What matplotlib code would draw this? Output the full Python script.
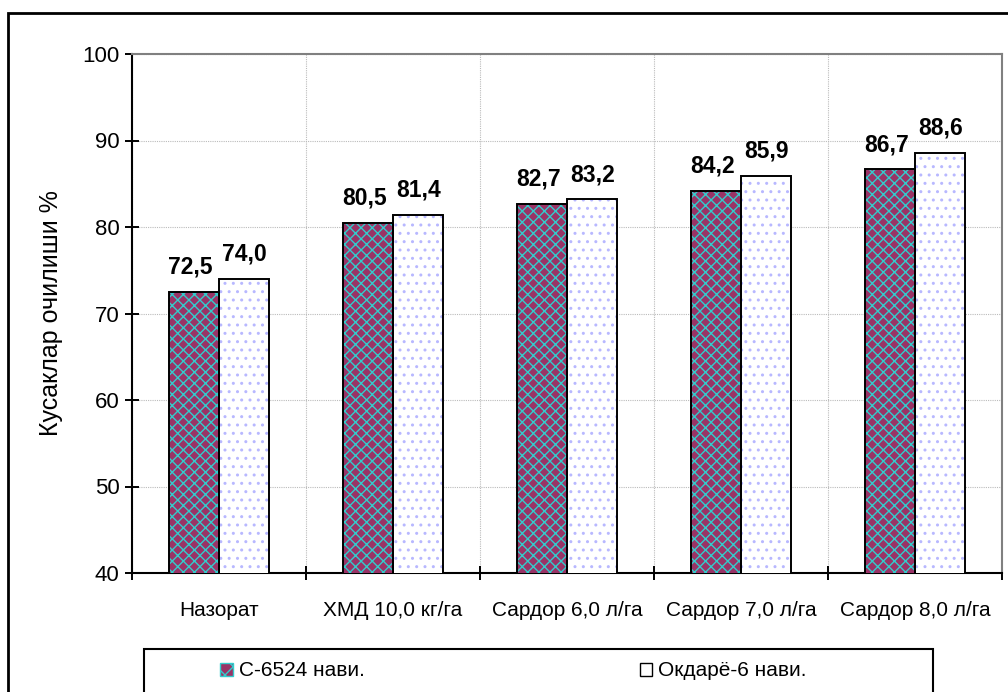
import matplotlib.pyplot as plt
import numpy as np
from matplotlib.patches import Rectangle

plt.rcParams['font.family'] = ['Liberation Sans', 'DejaVu Sans']
plt.rcParams['hatch.linewidth'] = 1.0

# Данные
categories = ['Назорат', 'ХМД 10,0 кг/га', 'Сардор 6,0 л/га', 'Сардор 7,0 л/га', 'Сардор 8,0 л/га']
s6524 = [72.5, 80.5, 82.7, 84.2, 86.7]
okdare = [74.0, 81.4, 83.2, 85.9, 88.6]
series_names = ['С-6524 нави.', 'Окдарё-6 нави.']
yticks = [40, 50, 60, 70, 80, 90, 100]

fig = plt.figure(figsize=(10.08, 6.92), dpi=100)
ax = fig.add_axes([132 / 1008, 1 - 573 / 692, 870 / 1008, 519 / 692])

x = np.arange(len(categories))
w = 0.29

# первая серия: фон + штриховка, потом контур
ax.bar(x - w / 2, s6524, w, color='#993366', edgecolor='#33CCCC', hatch='xxx', linewidth=0, zorder=3)
ax.bar(x - w / 2, s6524, w, fill=False, edgecolor='black', linewidth=1.4, zorder=4)
ax.bar(x + w / 2, okdare, w, color='white', edgecolor='#b8b8ff', hatch='..', linewidth=0, zorder=3)
ax.bar(x + w / 2, okdare, w, fill=False, edgecolor='black', linewidth=1.4, zorder=4)

for i in range(len(categories)):
    ax.text(x[i] - w / 2 - 0.02, s6524[i] + 1.5, f'{s6524[i]:.1f}'.replace('.', ','),
            ha='center', va='bottom', fontsize=16.5, fontweight='bold')
    ax.text(x[i] + w / 2, okdare[i] + 1.5, f'{okdare[i]:.1f}'.replace('.', ','),
            ha='center', va='bottom', fontsize=16.5, fontweight='bold')

ax.set_xlim(-0.5, len(categories) - 0.5)
ax.set_ylim(40, 100)
ax.set_yticks(yticks)
ax.tick_params(axis='y', labelsize=16, direction='inout', length=10, width=1.4, pad=4)

# подписи категорий по центру, засечки на границах
ax.set_xticks(np.arange(len(categories) + 1) - 0.5)
ax.set_xticklabels([])
ax.set_xticks(x, minor=True)
ax.set_xticklabels(categories, minor=True, fontsize=15)
ax.tick_params(axis='x', which='major', direction='inout', length=10, width=1.4)
ax.tick_params(axis='x', which='minor', length=0, pad=20)

ax.grid(True, which='major', color='#bbbbbb', linestyle=(0, (1, 1)), linewidth=0.8, zorder=0)
ax.set_axisbelow(True)

ax.spines['left'].set_linewidth(1.5)
ax.spines['bottom'].set_linewidth(1.5)
ax.spines['top'].set_color('#808080')
ax.spines['right'].set_color('#808080')
ax.spines['top'].set_linewidth(1.5)
ax.spines['right'].set_linewidth(1.5)

ax.set_ylabel('Кусаклар очилиши %', fontsize=18, labelpad=14)

# внешняя рамка
fig.patches.append(Rectangle((8 / 1008, -0.01), 1.05, 1 - 13 / 692 + 0.01, transform=fig.transFigure,
                             fill=False, edgecolor='black', linewidth=2))

# рамка легенды
fig.patches.append(Rectangle((144 / 1008, -0.01), (933 - 144) / 1008, (692 - 649) / 692 + 0.01,
                             transform=fig.transFigure, fill=False, edgecolor='black', linewidth=1.5))

h1 = Rectangle((0, 0), 1, 1, facecolor='#993366', edgecolor='#33CCCC', hatch='xx')
h2 = Rectangle((0, 0), 1, 1, facecolor='white', edgecolor='black')
leg = fig.legend([h1, h2], series_names, loc='center left',
                 bbox_to_anchor=(220 / 1008, 1 - 671 / 692),
                 ncol=2, fontsize=15, frameon=False,
                 handlelength=0.6, handleheight=0.6, handletextpad=0.3, borderaxespad=0,
                 borderpad=0, columnspacing=13.2)

fig.savefig('out.png', dpi=100)
